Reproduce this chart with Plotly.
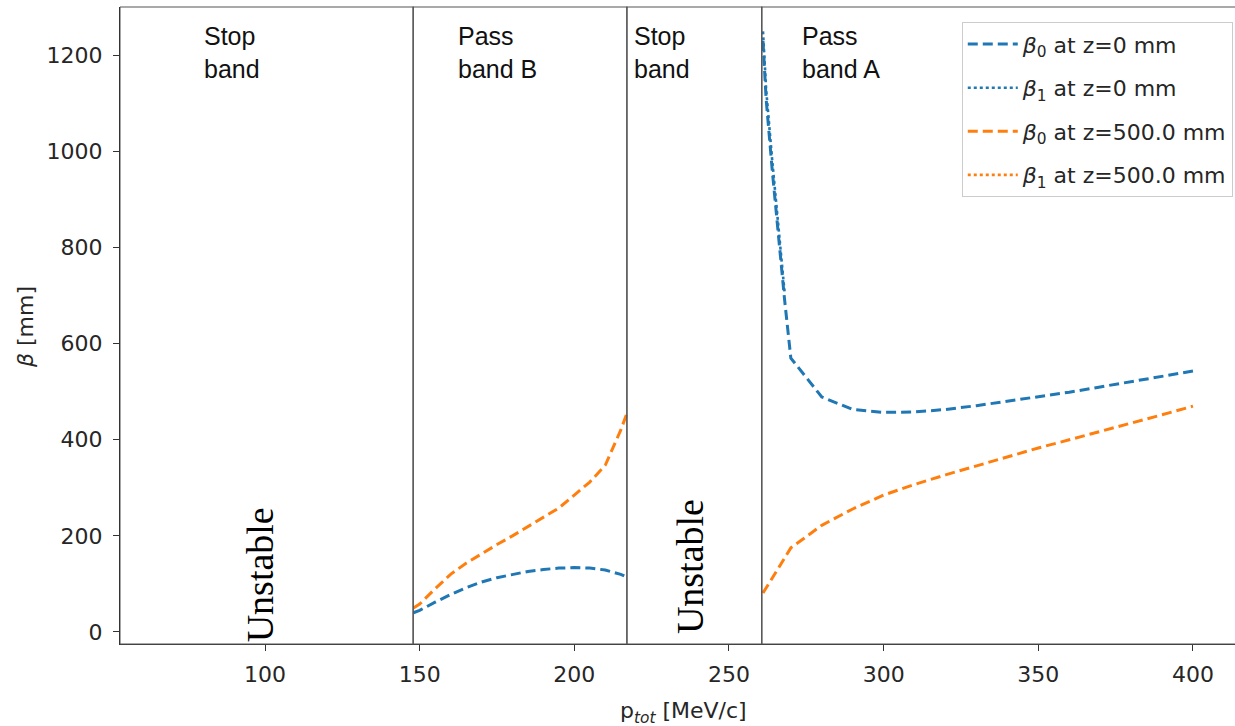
import plotly.graph_objects as go

# ---------------- data ----------------
p_band_B = [148, 150, 155, 160, 165, 170, 175, 180, 185, 190, 195, 200, 205, 210, 215, 217]
beta0_z0_B = [40, 45, 62, 78, 92, 104, 113, 120, 126, 130, 133, 134, 133, 129, 120, 114]
beta0_z500_B = [50, 58, 90, 120, 143, 163, 182, 200, 219, 238, 258, 285, 312, 347, 420, 455]

p_band_A = [261, 262, 264, 266, 268, 270, 280, 290, 300, 310, 320, 330, 340, 350,
            360, 370, 380, 390, 400]
beta0_z0_A = [1230, 1110, 960, 820, 690, 570, 489, 463, 457, 458, 463, 471, 480, 489,
              499, 510, 521, 532, 543]
beta0_z500_A = [81, 91, 112, 133, 154, 175, 222, 256, 285, 307, 327, 346, 364, 383,
                400, 417, 434, 452, 470]

# beta1 only shows (just beside beta0) on the steep part of pass band A at z=0
p_beta1_z0 = [261, 262, 264, 266, 268]
beta1_z0 = [1250, 1130, 980, 840, 705]
# beta1 at z=500 mm: no visible values in the picture
p_beta1_z500 = [None]
beta1_z500 = [None]

band_edges = [53.1, 147.9, 217.0, 260.6, 420.0]
band_labels = ["Stop<br>band", "Pass<br>band B", "Stop<br>band", "Pass<br>band A"]
label_x = [79.5, 161.6, 218.6, 273.0]
unstable_x = [98.4, 237.4]
unstable_y = [118, 135]

x_ticks = [100, 150, 200, 250, 300, 350, 400]
y_ticks = [0, 200, 400, 600, 800, 1000, 1200]

BLUE = "#1f77b4"
ORANGE = "#ff7f0e"
DASH = "10px,5px"


def join(xb, yb, xa, ya):
    return list(xb) + [None] + list(xa), list(yb) + [None] + list(ya)


fig = go.Figure()
xs, ys = join(p_band_B, beta0_z0_B, p_band_A, beta0_z0_A)
fig.add_trace(go.Scatter(x=xs, y=ys, mode="lines", name="<i>β</i><sub>0</sub> at z=0 mm",
                         legendgroup="g0", line=dict(color=BLUE, width=3, dash=DASH)))
fig.add_trace(go.Scatter(x=p_beta1_z0, y=beta1_z0, mode="lines",
                         name="<i>β</i><sub>1</sub> at z=0 mm",
                         legendgroup="g1", line=dict(color=BLUE, width=2.6, dash="dot")))
xs, ys = join(p_band_B, beta0_z500_B, p_band_A, beta0_z500_A)
fig.add_trace(go.Scatter(x=xs, y=ys, mode="lines", name="<i>β</i><sub>0</sub> at z=500.0 mm",
                         legendgroup="g2", line=dict(color=ORANGE, width=3, dash=DASH)))
fig.add_trace(go.Scatter(x=p_beta1_z500, y=beta1_z500, mode="lines",
                         name="<i>β</i><sub>1</sub> at z=500.0 mm", showlegend=True,
                         legendgroup="g3", line=dict(color=ORANGE, width=2.6, dash="dot")))

shapes = []
for i in range(4):
    shapes.append(dict(type="rect", xref="x", yref="paper",
                       x0=band_edges[i], x1=band_edges[i + 1], y0=0, y1=1,
                       line=dict(color="#555555", width=1.2), fillcolor="rgba(0,0,0,0)",
                       layer="above"))

annotations = []
for lx, txt in zip(label_x, band_labels):
    annotations.append(dict(x=lx, y=0.98, xref="x", yref="paper", text=txt,
                            showarrow=False, xanchor="left", yanchor="top", align="left",
                            font=dict(family="Liberation Sans, Arial", size=25, color="#111")))
for ux, uy in zip(unstable_x, unstable_y):
    annotations.append(dict(x=ux, y=uy, xref="x", yref="y", text="Unstable",
                            showarrow=False, textangle=-90,
                            font=dict(family="Liberation Serif, Times New Roman", size=38,
                                      color="#000")))
# axis titles
annotations.append(dict(x=0.505, y=-0.1068, xref="paper", yref="paper",
                        text="p<sub><i>tot</i></sub> [MeV/c]", showarrow=False,
                        xanchor="center", yanchor="middle",
                        font=dict(family="DejaVu Sans", size=22, color="#262626")))
annotations.append(dict(x=-0.0852, y=0.4976, xref="paper", yref="paper",
                        text="<i>β</i> [mm]", showarrow=False, textangle=-90,
                        xanchor="center", yanchor="middle",
                        font=dict(family="DejaVu Sans", size=22, color="#262626")))

fig.update_layout(
    width=1235, height=726,
    margin=dict(l=120, r=0, t=7, b=82),
    paper_bgcolor="white", plot_bgcolor="white",
    shapes=shapes, annotations=annotations,
    showlegend=True,
    legend=dict(x=0.998, y=0.976, xanchor="right", yanchor="top",
                bgcolor="white", bordercolor="#cccccc", borderwidth=1,
                font=dict(family="DejaVu Sans", size=22, color="#262626"),
                tracegroupgap=12, itemwidth=50),
    xaxis=dict(range=[53.125, 413.59], tickvals=x_ticks, ticks="outside", ticklen=6,
               tickcolor="#333", showline=True, linecolor="#333", linewidth=1.2,
               showgrid=False, zeroline=False, automargin=False, ticklabelstandoff=4,
               tickfont=dict(family="DejaVu Sans", size=22, color="#262626")),
    yaxis=dict(range=[-25, 1300.7], tickvals=y_ticks, ticks="outside", ticklen=6,
               tickcolor="#333", showline=True, linecolor="#333", linewidth=1.2,
               showgrid=False, zeroline=False, automargin=False, ticklabelstandoff=6,
               tickfont=dict(family="DejaVu Sans", size=22, color="#262626")),
)

fig.write_html("out.html")
